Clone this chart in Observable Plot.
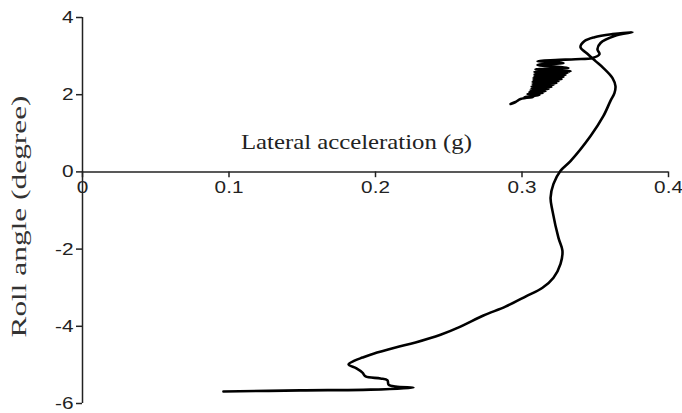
<!DOCTYPE html>
<html>
<head>
<meta charset="utf-8">
<script src="https://cdn.jsdelivr.net/npm/d3@7"></script>
<script src="https://cdn.jsdelivr.net/npm/@observablehq/plot@0.6"></script>
<style>
  html, body { margin: 0; padding: 0; background: #fff; }
  #chart { width: 682px; height: 413px; }
</style>
</head>
<body>
<div id="chart"></div>
<script>
// Lateral acceleration (g), in path order
const accel = [
  0.0962, 0.1488, 0.1966, 0.2259, 0.2137, 0.2089, 0.2082, 0.2034, 0.1932, 0.1911,
  0.1870, 0.1816, 0.1857, 0.1911, 0.1986, 0.2137, 0.2273, 0.2444, 0.2580, 0.2737,
  0.2887, 0.3024, 0.3140, 0.3215, 0.3263, 0.3276, 0.3249, 0.3208, 0.3195, 0.3215,
  0.3263, 0.3331, 0.3468, 0.3556, 0.3604, 0.3631, 0.3638, 0.3618, 0.3556, 0.3502,
  0.3440, 0.3399, 0.3427, 0.3495, 0.3618, 0.3754, 0.3631, 0.3536, 0.3515, 0.3529,
  0.3481, 0.3365, 0.3229, 0.3106, 0.3283, 0.3106, 0.3317, 0.3092, 0.3331,
  0.3085, 0.3311, 0.3085, 0.3297, 0.3085, 0.3283, 0.3078, 0.3270, 0.3078, 0.3249,
  0.3072, 0.3235, 0.3072, 0.3215, 0.3065, 0.3201, 0.3065, 0.3181, 0.3058, 0.3160,
  0.3051, 0.3140, 0.3038, 0.3119, 0.3017, 0.3078, 0.2990, 0.2956, 0.2922
];
// Roll angle (degree), in path order
const roll = [
  -5.69, -5.66, -5.64, -5.59, -5.56, -5.51, -5.40, -5.35, -5.30, -5.20,
  -5.09, -4.99, -4.89, -4.81, -4.71, -4.55, -4.42, -4.22, -4.01, -3.72,
  -3.49, -3.23, -3.00, -2.74, -2.38, -2.04, -1.71, -1.01, -0.67, -0.31,
  0.03, 0.28, 0.93, 1.45, 1.84, 2.04, 2.22, 2.43, 2.69, 2.87,
  3.08, 3.23, 3.39, 3.49, 3.57, 3.62, 3.52, 3.34, 3.18, 3.05,
  2.95, 2.92, 2.90, 2.87, 2.82, 2.77, 2.69, 2.66, 2.61,
  2.59, 2.56, 2.53, 2.51, 2.48, 2.46, 2.43, 2.40, 2.38, 2.35,
  2.33, 2.30, 2.28, 2.25, 2.22, 2.20, 2.17, 2.15, 2.12, 2.09,
  2.07, 2.04, 2.02, 1.99, 1.94, 1.94, 1.89, 1.81, 1.76
];
const xTicks = [0, 0.1, 0.2, 0.3, 0.4];
const xTickLabels = ["0", "0.1", "0.2", "0.3", "0.4"];
const yTicks = [-6, -4, -2, 0, 2, 4];
const yTickLabels = ["-6", "-4", "-2", "0", "2", "4"];
const xTitle = "Lateral acceleration (g)";
const yTitle = "Roll angle (degree)";

const pts = accel.map((a, i) => ({a, r: roll[i]}));
const xt = xTicks.map((v, i) => ({v, label: xTickLabels[i]}));
const serif = "Liberation Serif, Times New Roman, serif";

const chart = Plot.plot({
  width: 682,
  height: 413,
  marginLeft: 82,
  marginRight: 14,
  marginTop: 17,
  marginBottom: 10,
  style: {fontFamily: "Liberation Sans, Arial, sans-serif", fontSize: "17px", color: "#222", background: "#fff"},
  x: {domain: [0, 0.4], axis: null},
  y: {domain: [-6, 4], axis: null},
  marks: [
    Plot.axisY({ticks: yTicks, tickFormat: d => yTickLabels[yTicks.indexOf(d)], tickSize: 6, tickPadding: 3, label: null, fontSize: 17, stroke: "#222", strokeWidth: 1.5, fill: "#222"}),
    Plot.ruleX([0], {y1: -6, y2: 4, stroke: "#222", strokeWidth: 1.5}),
    Plot.ruleY([0], {x1: 0, x2: 0.4, stroke: "#222", strokeWidth: 1.5}),
    Plot.ruleX(xt, {x: "v", y1: 0, y2: -0.15, stroke: "#222", strokeWidth: 1.5}),
    Plot.text(xt, {x: "v", y: 0, text: "label", dy: 16, fontSize: 17, fill: "#222"}),
    Plot.text([xTitle], {x: 0.187, y: 0.76, text: d => d, fontFamily: serif, fontSize: 21, fill: "#222"}),
    Plot.text([yTitle], {frameAnchor: "left", textAnchor: "middle", text: d => d, rotate: -90, dx: -64, dy: 6, fontFamily: serif, fontSize: 22, fill: "#333"}),
    Plot.line(pts, {x: "a", y: "r", stroke: "#000", strokeWidth: 2.6, curve: "catmull-rom", strokeLinejoin: "round", strokeLinecap: "round"})
  ]
});
document.getElementById("chart").appendChild(chart);

// Match the reference's wider lettering
d3.select(chart).selectAll("text").each(function () {
  const t = this.textContent;
  if (t === xTitle) this.setAttribute("textLength", 231);
  else if (t === yTitle) this.setAttribute("textLength", 242);
  else this.setAttribute("textLength", (this.getComputedTextLength() * 1.22).toFixed(1));
  this.setAttribute("lengthAdjust", "spacingAndGlyphs");
});
</script>
</body>
</html>
